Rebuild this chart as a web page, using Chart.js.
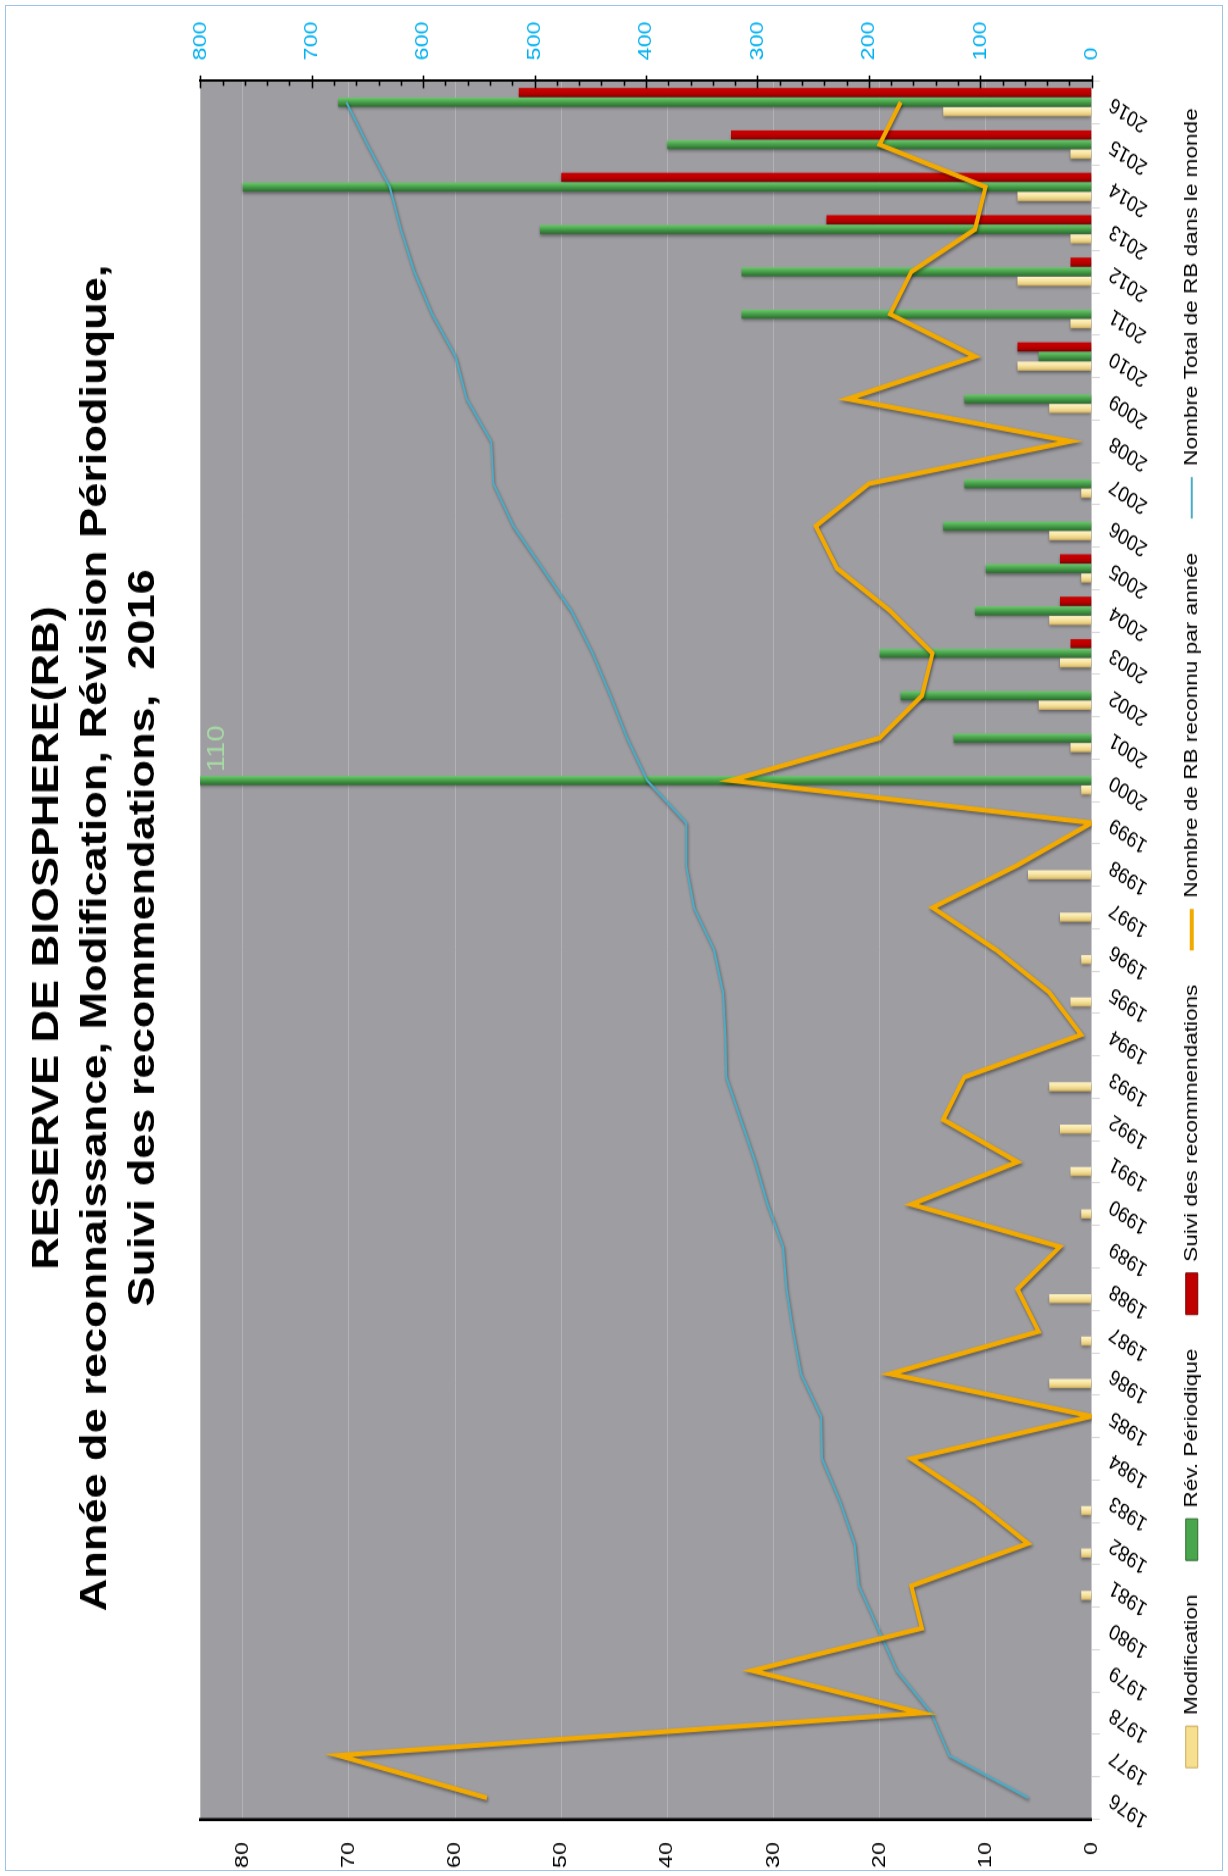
<!DOCTYPE html>
<html>
<head>
<meta charset="utf-8">
<script src="https://cdn.jsdelivr.net/npm/chart.js@4/dist/chart.umd.min.js"></script>
<style>
  html, body { margin: 0; padding: 0; background: #ffffff; }
  #page { position: relative; width: 1228px; height: 1876px; overflow: hidden; background: #fff; }
  #frame { position: absolute; left: 5px; top: 5px; right: 5px; bottom: 5px; border: 1px solid #9dc3e6; pointer-events: none; }
  #rot { position: absolute; left: 0; top: 0; width: 1876px; height: 1228px;
         transform-origin: 0 0; transform: translateY(1876px) rotate(-90deg); }
  #c { display: block; width: 1876px; height: 1228px; }
</style>
</head>
<body>
<div id="page">
  <div id="rot"><canvas id="c" width="1538" height="1228" style="width:1876px;height:1228px"></canvas></div>
  <div id="frame"></div>
</div>
<script>
// ---------------- data ----------------
const years = ['1976','1977','1978','1979','1980','1981','1982','1983','1984','1985',
               '1986','1987','1988','1989','1990','1991','1992','1993','1994','1995',
               '1996','1997','1998','1999','2000','2001','2002','2003','2004','2005',
               '2006','2007','2008','2009','2010','2011','2012','2013','2014','2015','2016'];

const modification = [null,null,null,null,null,1,1,1,null,null,
                      4,1,4,null,1,2,3,4,null,2,
                      1,3,6,null,1,2,5,3,4,1,
                      4,1,null,4,7,2,7,2,7,2,14];

const revPeriodique = [null,null,null,null,null,null,null,null,null,null,
                       null,null,null,null,null,null,null,null,null,null,
                       null,null,null,null,110,13,18,20,11,10,
                       14,12,null,12,5,33,33,52,80,40,71];

const suiviRecommandations = [null,null,null,null,null,null,null,null,null,null,
                              null,null,null,null,null,null,null,null,null,null,
                              null,null,null,null,null,null,null,2,3,3,
                              null,null,null,null,7,null,2,25,50,34,54];

const reconnuParAnnee = [57,71,16,32,16,17,6,11,17,0,
                         19,5,7,3,17,7,14,12,1,4,
                         9,15,7,0,34,20,16,15,19,24,
                         26,21,2,23,11,19,17,11,10,20,18];

const totalMonde = [57,128,144,175,192,209,213,226,242,243,
                    261,268,274,277,291,302,315,328,329,331,
                    339,357,364,364,399,417,432,448,467,493,
                    519,537,539,561,571,592,608,620,630,650,669];

const titleLines = ['RESERVE DE BIOSPHERE(RB)',
                    'Année de reconnaissance, Modification, Révision Périodiuque,',
                    'Suivi des recommendations,  2016'];
const seriesNames = ['Modification', 'Rév. Périodique', 'Suivi des recommendations',
                     'Nombre de RB reconnu par année', 'Nombre Total de RB dans le monde'];
const leftAxisMax = 84, leftAxisStep = 10;
const rightAxisMax = 800, rightAxisStep = 100, rightAxisMinorStep = 20;

// ---------------- styling ----------------
const FONT = "'Liberation Sans', Arial, sans-serif";
const CAT_PCT = 0.68, BAR_PCT = 0.95;
const PLOT_BG = '#9e9da2';

function barGradient(stops, fallback) {
  return (ctx) => {
    const chart = ctx.chart, area = chart.chartArea;
    if (!area || ctx.type !== 'data') return fallback;
    const xs = chart.scales.x;
    const catW = (area.right - area.left) / years.length;
    const slot = catW * CAT_PCT / 3;
    const k = ctx.datasetIndex;
    const cx = xs.getPixelForValue(ctx.dataIndex) + (k - 1) * slot;
    const half = slot * BAR_PCT / 2;
    const g = chart.ctx.createLinearGradient(cx - half, 0, cx + half, 0);
    stops.forEach(s => g.addColorStop(s[0], s[1]));
    return g;
  };
}

const yellowStops = [[0,'#c9a85a'],[0.25,'#e9cf82'],[0.6,'#f8e6a6'],[1,'#fff3c4']];
const greenStops  = [[0,'#2b6b2e'],[0.3,'#3a8a3d'],[0.65,'#52ac54'],[1,'#6cc96c']];
const redStops    = [[0,'#6e0000'],[0.25,'#a80000'],[0.6,'#c20000'],[1,'#c80000']];

// ---------------- plugins ----------------
const bgPlugin = {
  id: 'bg',
  beforeDraw(chart) {
    const {ctx, chartArea: a} = chart;
    ctx.save();
    ctx.fillStyle = '#ffffff';
    ctx.fillRect(0, 0, chart.width, chart.height);
    ctx.fillStyle = PLOT_BG;
    ctx.fillRect(a.left, a.top, a.right - a.left, a.bottom - a.top);
    ctx.restore();
  }
};

const shadowPlugin = {
  id: 'shadow',
  beforeDatasetDraw(chart, args) {
    const ctx = chart.ctx;
    ctx.save();
    const isLine = chart.data.datasets[args.index].type === 'line';
    ctx.shadowColor = isLine ? 'rgba(0,0,0,0.45)' : 'rgba(0,0,0,0.4)';
    ctx.shadowBlur = 3;
    ctx.shadowOffsetX = -1.8;
    ctx.shadowOffsetY = isLine ? 1 : 0;
  },
  afterDatasetDraw(chart) {
    chart.ctx.restore();
  }
};

const rightTicksPlugin = {
  id: 'rightTicks',
  afterDraw(chart) {
    const s = chart.scales.y2, ctx = chart.ctx;
    const x = chart.chartArea.right;
    ctx.save();
    ctx.strokeStyle = '#000';
    ctx.lineWidth = 1.6;
    for (let v = 0; v <= rightAxisMax; v += rightAxisMinorStep) {
      const y = Math.round(s.getPixelForValue(v)) + 0.5;
      const major = v % rightAxisStep === 0;
      ctx.beginPath();
      if (major) { ctx.moveTo(x - 6, y); ctx.lineTo(x + 4.5, y); }
      else { ctx.moveTo(x - 4, y); ctx.lineTo(x, y); }
      ctx.stroke();
    }
    ctx.restore();
  }
};

const overflowLabelPlugin = {
  id: 'overflowLabel',
  afterDatasetsDraw(chart) {
    const ctx = chart.ctx, a = chart.chartArea;
    const meta = chart.getDatasetMeta(1);
    const ds = chart.data.datasets[1];
    ds.data.forEach((v, i) => {
      if (v == null || v <= leftAxisMax) return;
      const el = meta.data[i];
      ctx.save();
      ctx.fillStyle = '#a6d9a4';
      ctx.font = '24px ' + FONT;
      ctx.textAlign = 'center';
      ctx.textBaseline = 'middle';
      ctx.fillText(String(v), el.x + 26, a.top + 17);
      ctx.restore();
    });
  }
};

// ---------------- chart ----------------
const ctx = document.getElementById('c').getContext('2d');
const chart = new Chart(ctx, {
  type: 'bar',
  data: {
    labels: years,
    datasets: [
      { label: seriesNames[0], data: modification, yAxisID: 'y', order: 3,
        backgroundColor: barGradient(yellowStops, '#f3dc94'), legendColor: '#f6e08f', legendBorder: '#c9a85a',
        categoryPercentage: CAT_PCT, barPercentage: BAR_PCT, borderWidth: 0 },
      { label: seriesNames[1], data: revPeriodique, yAxisID: 'y', order: 3,
        backgroundColor: barGradient(greenStops, '#47a04a'), legendColor: '#4aa64c', legendBorder: '#2b6b2e',
        categoryPercentage: CAT_PCT, barPercentage: BAR_PCT, borderWidth: 0 },
      { label: seriesNames[2], data: suiviRecommandations, yAxisID: 'y', order: 3,
        backgroundColor: barGradient(redStops, '#c00000'), legendColor: '#c00000', legendBorder: '#7a0000',
        categoryPercentage: CAT_PCT, barPercentage: BAR_PCT, borderWidth: 0 },
      { type: 'line', label: seriesNames[3], data: reconnuParAnnee, yAxisID: 'y', order: 1,
        borderColor: '#f2aa00', backgroundColor: '#f2aa00', borderWidth: 4, pointRadius: 0,
        tension: 0, fill: false, pointStyle: 'line', borderJoinStyle: 'miter' },
      { type: 'line', label: seriesNames[4], data: totalMonde, yAxisID: 'y2', order: 2,
        borderColor: '#4bacc6', backgroundColor: '#4bacc6', borderWidth: 2, pointRadius: 0,
        tension: 0, fill: false, pointStyle: 'line' }
    ]
  },
  options: {
    responsive: false,
    animation: false,
    events: [],
    devicePixelRatio: 1,
    layout: { padding: { left: 0, right: 0, top: 0, bottom: 17 } },
    plugins: {
      tooltip: { enabled: false },
      title: {
        display: true,
        text: titleLines,
        color: '#000',
        font: { family: FONT, size: 37, weight: 'bold', lineHeight: 1.3 },
        padding: { top: 24, bottom: 32 }
      },
      legend: {
        position: 'bottom',
        labels: {
          usePointStyle: true,
          pointStyleWidth: 34,
          boxHeight: 12,
          padding: 28,
          color: '#000',
          font: { family: FONT, size: 18.5 },
          sort: (a, b) => a.datasetIndex - b.datasetIndex,
          generateLabels(chart) {
            const items = Chart.defaults.plugins.legend.labels.generateLabels(chart);
            items.forEach(it => {
              const ds = chart.data.datasets[it.datasetIndex];
              if (ds.type === 'line') {
                it.pointStyle = 'line';
                it.strokeStyle = ds.borderColor;
                it.lineWidth = ds.borderWidth;
              } else {
                it.pointStyle = 'rect';
                it.fillStyle = ds.legendColor;
                it.strokeStyle = ds.legendBorder;
                it.lineWidth = 1;
              }
            });
            return items;
          }
        }
      }
    },
    scales: {
      x: {
        type: 'category',
        offset: true,
        grid: { offset: true, drawOnChartArea: false, drawTicks: true, tickLength: 8, color: '#d6d6d6' },
        border: { display: true, color: '#c9c9cc', width: 1 },
        ticks: { autoSkip: false, minRotation: 60, maxRotation: 60, padding: 6, color: '#000',
                 font: { family: FONT, size: 18 } },
        afterFit(s) { s.height = 62.75; }
      },
      y: {
        position: 'left',
        min: 0, max: leftAxisMax,
        ticks: { stepSize: leftAxisStep, includeBounds: false, padding: 19, color: '#000',
                 font: { family: FONT, size: 19 } },
        grid: { color: '#b3b2b7', lineWidth: 1, drawTicks: false },
        border: { display: true, color: '#000', width: 2.5 },
        afterFit(s) { s.width = 46.7; }
      },
      y2: {
        position: 'right',
        min: 0, max: rightAxisMax,
        ticks: { stepSize: rightAxisStep, includeBounds: false, padding: 17, color: '#00b0f0',
                 font: { family: FONT, size: 19 } },
        grid: { drawOnChartArea: false, drawTicks: false },
        border: { display: true, color: '#000', width: 2 },
        afterFit(s) { s.width = 66.4; }
      }
    }
  },
  plugins: [bgPlugin, shadowPlugin, rightTicksPlugin, overflowLabelPlugin]
});
</script>
</body>
</html>
